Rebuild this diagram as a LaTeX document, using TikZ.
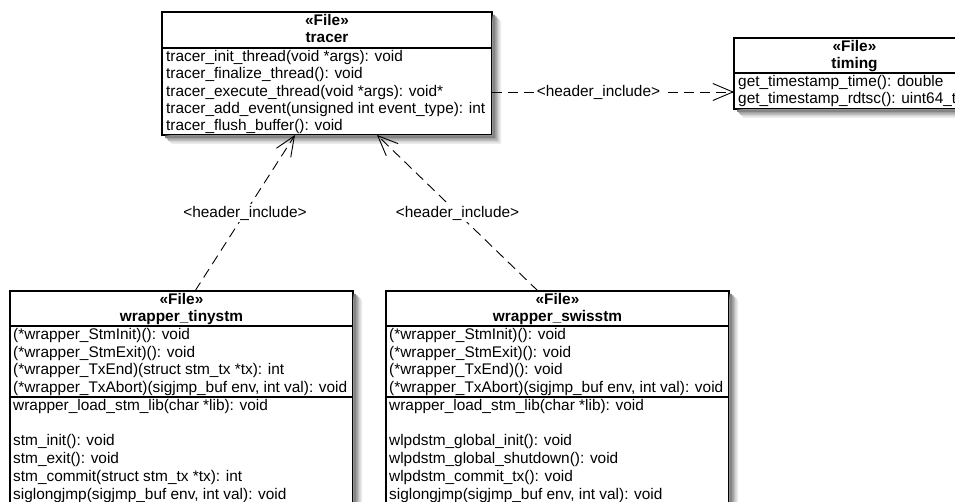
\documentclass[tikz,border=0pt]{standalone}
\usepackage{fontspec}
\setmainfont{Liberation Sans}
\usetikzlibrary{arrows.meta}
\definecolor{shA}{RGB}{236,236,236}
\definecolor{shB}{RGB}{214,214,214}
\definecolor{shC}{RGB}{188,188,188}
\definecolor{shD}{RGB}{160,160,160}
\definecolor{shE}{RGB}{132,132,132}
\begin{document}
\begin{tikzpicture}[x=1pt,y=-1pt,
  classbox/.style={draw, line width=1.1pt, fill=white, inner sep=0pt, outer sep=0pt},
  member/.style={anchor=base west, inner sep=0pt, font=\fontsize{15.4}{18}\selectfont},
  ctitle/.style={anchor=base, inner sep=0pt, font=\fontsize{15.4}{18}\selectfont\bfseries},
  divider/.style={line width=1.1pt},
  shadowband/.style={draw=none},
  dep/.style={line width=0.9pt, dash pattern=on 10pt off 6pt,
    -{Straight Barb[length=20pt,width=17pt,line width=0.9pt]}},
  deplabel/.style={fill=white, inner sep=2pt, font=\fontsize{15.4}{18}\selectfont}]
\fill[white] (0,0) rectangle (955,502);
\clip (0,0) rectangle (955,502);

% ---------- tracer ----------
\node[classbox, minimum width=330pt, minimum height=123pt] (tracer) at (327,73.5) {};
\node[ctitle] (tracer-st) at (327,25.5) {«File»};
\node[ctitle] (tracer-nm) at (327,43) {tracer};
\draw[divider] (162,48) -- (492,48);
\foreach \t [count=\i] in {
  {tracer\_init\_thread(void *args): void},
  {tracer\_finalize\_thread(): void},
  {tracer\_execute\_thread(void *args): void*},
  {tracer\_add\_event(unsigned int event\_type): int},
  {tracer\_flush\_buffer(): void}}
  \node[member] (tracer-\i) at (166,{48+17.4*(\i-1)+13.3}) {\t};

% ---------- timing ----------
\node[classbox, minimum width=241pt, minimum height=71pt] (timing) at (854.5,73.5) {};
\node[ctitle] (timing-st) at (854.5,51.5) {«File»};
\node[ctitle] (timing-nm) at (854.5,69) {timing};
\draw[divider] (734,73) -- (975,73);
\foreach \t [count=\i] in {
  {get\_timestamp\_time(): double},
  {get\_timestamp\_rdtsc(): uint64\_t}}
  \node[member] (timing-\i) at (738,{73+17.6*(\i-1)+13.3}) {\t};

% ---------- wrapper_tinystm ----------
\node[classbox, minimum width=343pt, minimum height=249pt] (tiny) at (181.5,415.5) {};
\node[ctitle] (tiny-st) at (181.5,304.5) {«File»};
\node[ctitle] (tiny-nm) at (181.5,322) {wrapper\_tinystm};
\draw[divider] (10,326) -- (353,326);
\foreach \t [count=\i] in {
  {(*wrapper\_StmInit)(): void},
  {(*wrapper\_StmExit)(): void},
  {(*wrapper\_TxEnd)(struct stm\_tx *tx): int},
  {(*wrapper\_TxAbort)(sigjmp\_buf env, int val): void}}
  \node[member] (tiny-a\i) at (13,{326+17.75*(\i-1)+13.3}) {\t};
\draw[divider] (10,397) -- (353,397);
\foreach \t [count=\i] in {
  {wrapper\_load\_stm\_lib(char *lib): void},
  {},
  {stm\_init(): void},
  {stm\_exit(): void},
  {stm\_commit(struct stm\_tx *tx): int},
  {siglongjmp(sigjmp\_buf env, int val): void}}
  \node[member] (tiny-b\i) at (13,{397+17.75*(\i-1)+13.3}) {\t};

% ---------- wrapper_swisstm ----------
\node[classbox, minimum width=343pt, minimum height=249pt] (swiss) at (557.5,415.5) {};
\node[ctitle] (swiss-st) at (557.5,304.5) {«File»};
\node[ctitle] (swiss-nm) at (557.5,322) {wrapper\_swisstm};
\draw[divider] (386,326) -- (729,326);
\foreach \t [count=\i] in {
  {(*wrapper\_StmInit)(): void},
  {(*wrapper\_StmExit)(): void},
  {(*wrapper\_TxEnd)(): void},
  {(*wrapper\_TxAbort)(sigjmp\_buf env, int val): void}}
  \node[member] (swiss-a\i) at (389,{326+17.75*(\i-1)+13.3}) {\t};
\draw[divider] (386,397) -- (729,397);
\foreach \t [count=\i] in {
  {wrapper\_load\_stm\_lib(char *lib): void},
  {},
  {wlpdstm\_global\_init(): void},
  {wlpdstm\_global\_shutdown(): void},
  {wlpdstm\_commit\_tx(): void},
  {siglongjmp(sigjmp\_buf env, int val): void}}
  \node[member] (swiss-b\i) at (389,{397+17.75*(\i-1)+13.3}) {\t};

% ---------- shadows: L-shaped bands right of and below each box ----------
\foreach \bx in {tracer, timing, tiny, swiss} {
  \foreach \o/\c in {9/shA, 7.5/shB, 6/shC, 4.5/shD, 3/shE} {
    \path[shadowband, fill=\c]
      ([shift={(0.6,\o)}]\bx.north east) -- ([shift={(\o,\o)}]\bx.north east)
      -- ([shift={(\o,\o)}]\bx.south east) -- ([shift={(\o,\o)}]\bx.south west)
      -- ([shift={(\o,0.6)}]\bx.south west) -- ([shift={(0.6,0.6)}]\bx.south east)
      -- cycle;
  }
}

% ---------- dependencies ----------
\coordinate (yarr) at (0,92);
\draw[dep] (tracer.east |- yarr) -- node[deplabel, pos=0.44] (lab-timing) {<header\_include>} (timing.west |- yarr);
\draw[dep] ([xshift=185pt]tiny.north west) -- node[deplabel] (lab-tiny) {<header\_include>} ([xshift=-32pt]tracer.south);
\draw[dep] ([xshift=152pt]swiss.north west) -- node[deplabel] (lab-swiss) {<header\_include>} ([xshift=50pt]tracer.south);
\end{tikzpicture}
\end{document}
